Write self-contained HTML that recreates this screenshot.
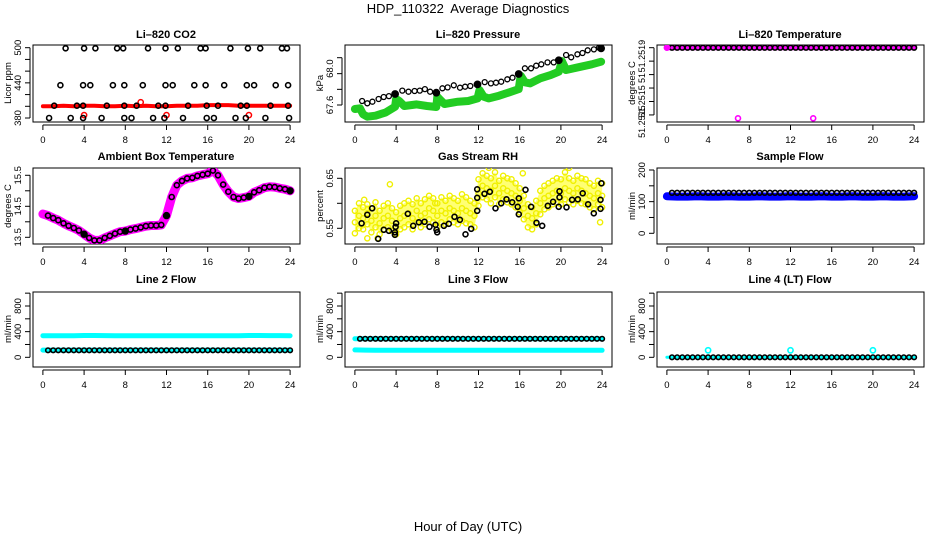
<!DOCTYPE html>
<html><head><meta charset="utf-8"><title>HDP_110322 Average Diagnostics</title>
<style>
html,body{margin:0;padding:0;background:#fff;}
svg{display:block;font-family:"Liberation Sans",Arial,sans-serif;}
.pt{font-size:11px;font-weight:bold;text-anchor:middle;}
.at{font-size:9.5px;text-anchor:middle;}
</style></head>
<body>
<svg id="chart" width="936" height="540" viewBox="0 0 936 540" xmlns="http://www.w3.org/2000/svg">
<rect x="0" y="0" width="936" height="540" fill="#fff"/>
<text x="468" y="13" font-size="13" text-anchor="middle" xml:space="preserve">HDP_110322  Average Diagnostics</text>
<text x="468" y="531" font-size="13" text-anchor="middle">Hour of Day (UTC)</text>
<text class="pt" x="166" y="38">Li–820 CO2</text>
<text class="pt" x="478" y="38">Li–820 Pressure</text>
<text class="pt" x="790" y="38">Li–820 Temperature</text>
<text class="pt" x="166" y="160">Ambient Box Temperature</text>
<text class="pt" x="478" y="160">Gas Stream RH</text>
<text class="pt" x="790" y="160">Sample Flow</text>
<text class="pt" x="166" y="283">Line 2 Flow</text>
<text class="pt" x="478" y="283">Line 3 Flow</text>
<text class="pt" x="790" y="283">Line 4 (LT) Flow</text>
<text class="at" transform="translate(11,83) rotate(-90)">Licor ppm</text>
<text class="at" transform="translate(323,83) rotate(-90)">kPa</text>
<text class="at" transform="translate(635,83) rotate(-90)">degrees C</text>
<text class="at" transform="translate(11,206) rotate(-90)">degrees C</text>
<text class="at" transform="translate(323,206) rotate(-90)">percent</text>
<text class="at" transform="translate(635,206) rotate(-90)">ml/min</text>
<text class="at" transform="translate(11,329) rotate(-90)">ml/min</text>
<text class="at" transform="translate(323,329) rotate(-90)">ml/min</text>
<text class="at" transform="translate(635,329) rotate(-90)">ml/min</text>
</svg>
<script>
// ---------- data ----------
const xTicks=[0,4,8,12,16,20,24];
const xTickLabels=['0','4','8','12','16','20','24'];
const halfHours=[0.5,1,1.5,2,2.5,3,3.5,4,4.5,5,5.5,6,6.5,7,7.5,8,8.5,9,9.5,10,10.5,11,11.5,12,12.5,13,13.5,14,14.5,15,15.5,16,16.5,17,17.5,18,18.5,19,19.5,20,20.5,21,21.5,22,22.5,23,23.5,24];
const wholeHours=[0,1,2,3,4,5,6,7,8,9,10,11,12,13,14,15,16,17,18,19,20,21,22,23,24];

// CO2
const co2BlackHours=[2.2,4.0,5.1,7.2,7.8,10.2,11.9,13.1,15.3,15.8,18.2,19.9,21.1,23.2,23.7,
 1.7,3.9,4.6,6.8,7.9,9.7,11.9,12.6,14.7,15.8,17.6,19.8,20.5,22.6,23.8,
 1.1,3.3,3.9,6.2,7.9,9.1,11.2,11.9,14.1,15.9,17.0,19.2,19.8,22.1,23.8,
 0.6,2.7,3.9,5.7,7.9,8.6,10.7,11.8,13.6,15.9,16.6,18.7,19.7,21.6,23.9];
const co2BlackVals=[499,499,499,499,499,499,499,499,499,499,499,499,499,499,499,
 436,436,436,436,436,436,436,436,436,436,436,436,436,436,436,
 401,401,401,401,401,401,401,401,401,401,401,401,401,401,401,
 380,380,380,380,380,380,380,380,380,380,380,380,380,380,380];
const co2RedVals=[400,400,401,400,401,401,400,400,401,400,401,400,400,401,401,401,402,402,402,401,401,401,401,401,401];
const co2RedPtHours=[4,9.5,12,20];
const co2RedPtVals=[385,407,385,385];

// Pressure
const presBlackHours=[0.7,1.2,1.7,2.3,2.8,3.3,3.9,4.6,5.2,5.8,6.3,6.8,7.3,7.9,8.5,9.0,9.6,10.2,10.7,11.2,11.9,12.6,13.2,13.7,14.2,14.8,15.3,15.9,16.5,17.1,17.6,18.1,18.7,19.3,19.8,20.5,21.0,21.6,22.1,22.6,23.2,23.7];
const presBlackVals=[67.643,67.618,67.636,67.664,67.686,67.696,67.718,67.754,67.743,67.75,67.754,67.771,67.743,67.732,67.779,67.789,67.811,67.786,67.796,67.804,67.821,67.846,67.832,67.839,67.85,67.875,67.893,67.932,67.993,67.993,68.021,68.036,68.057,68.057,68.079,68.136,68.111,68.143,68.157,68.186,68.196,68.214];
const presFilledHours=[3.9,7.9,11.9,15.9,19.8,23.9];
const presFilledVals=[67.718,67.732,67.821,67.932,68.079,68.207];
const presGreenHours=[0,0.5,0.8,1.2,2,3,3.9,4.0,4.3,4.8,6,7,7.9,8.0,8.3,8.7,10,11,11.9,12.1,12.5,13,14,15,15.9,16.1,16.5,17,18,19,19.8,20.1,20.5,21.5,23,23.9];
const presGreenVals=[67.557,67.564,67.5,67.475,67.486,67.521,67.582,67.664,67.643,67.589,67.607,67.589,67.579,67.689,67.654,67.611,67.636,67.643,67.671,67.761,67.689,67.671,67.7,67.736,67.771,67.914,67.843,67.832,67.886,67.921,67.957,68.071,67.975,68.0,68.036,68.064];

// Li-820 temperature
const tempBlackVals=[51.2519,51.2519,51.2519,51.2519,51.2519,51.2519,51.2519,51.2519,51.2519,51.2519,51.2519,51.2519,51.2519,51.2519,51.2519,51.2519,51.2519,51.2519,51.2519,51.2519,51.2519,51.2519,51.2519,51.2519,51.2519,51.2519,51.2519,51.2519,51.2519,51.2519,51.2519,51.2519,51.2519,51.2519,51.2519,51.2519,51.2519,51.2519,51.2519,51.2519,51.2519,51.2519,51.2519,51.2519,51.2519,51.2519,51.2519,51.2519];
const tempMagHours=[0,24];
const tempMagVals=[51.2519,51.2519];
const tempMagPtHours=[0,6.9,14.2];
const tempMagPtVals=[51.2519,51.25148,51.25148];

// Ambient temperature
const ambHours=[0,0.5,1,1.5,2,2.5,3,3.5,4,4.5,5,5.5,6,6.5,7,7.5,8,8.5,9,9.5,10,10.5,11,11.5,12,12.5,13,13.5,14,14.5,15,15.5,16,16.5,17,17.5,18,18.5,19,19.5,20,20.5,21,21.5,22,22.5,23,23.5,24];
const ambVals=[14.25,14.2,14.12,14.05,13.95,13.87,13.8,13.72,13.6,13.48,13.4,13.4,13.48,13.55,13.62,13.68,13.7,13.75,13.78,13.82,13.86,13.88,13.88,13.9,14.2,14.8,15.18,15.32,15.4,15.42,15.48,15.52,15.55,15.65,15.5,15.2,14.97,14.8,14.75,14.78,14.82,14.95,15.02,15.1,15.13,15.12,15.08,15.05,15.0];
const ambFilledHours=[4,8,12,20,24];
const ambFilledVals=[13.6,13.7,14.2,14.82,15.0];

// Gas stream RH
const rhHours=[0,0.4,0.8,1.2,1.6,2,2.4,2.8,3.2,3.6,4,4.4,4.8,5.2,5.6,6,6.4,6.8,7.2,7.6,8,8.4,8.8,9.2,9.6,10,10.4,10.8,11.2,11.6,12,12.4,12.8,13.2,13.6,14,14.4,14.8,15.2,15.6,16,16.4,16.8,17.2,17.6,18,18.4,18.8,19.2,19.6,20,20.4,20.8,21.2,21.6,22,22.4,22.8,23.2,23.6,24];
const rhMid=[.562,.575,.570,.580,.565,.575,.560,.570,.575,.565,.560,.570,.575,.580,.570,.585,.575,.580,.590,.585,.575,.585,.580,.590,.585,.580,.590,.585,.580,.575,.620,.635,.630,.625,.635,.620,.630,.625,.620,.615,.605,.590,.575,.570,.580,.600,.610,.615,.620,.625,.620,.630,.625,.620,.630,.625,.620,.615,.610,.620,.615];
const rhHi=[.585,.600,.592,.598,.590,.602,.585,.595,.600,.590,.582,.595,.600,.605,.598,.610,.600,.608,.615,.610,.600,.612,.605,.615,.610,.605,.618,.612,.605,.600,.648,.660,.655,.650,.662,.645,.655,.650,.648,.640,.630,.615,.598,.592,.605,.625,.635,.640,.645,.650,.648,.662,.650,.645,.655,.650,.648,.640,.635,.645,.640];
const rhLo=[.540,.550,.548,.558,.542,.552,.538,.548,.552,.545,.538,.548,.552,.558,.548,.562,.552,.558,.568,.562,.552,.562,.558,.568,.562,.558,.565,.560,.558,.552,.595,.612,.608,.600,.612,.598,.608,.602,.598,.592,.582,.568,.552,.548,.558,.578,.588,.592,.598,.602,.598,.608,.602,.598,.605,.600,.598,.592,.588,.598,.592];
const rhExtraHours=[3.4,0.9,13.0,20.8,16.3,23.8,2.2,7.8,1.2];
const rhExtraVals=[.638,.607,.671,.671,.660,.562,.530,.600,.530];
const rhBlackHours=[0.65,1.2,1.68,2.26,2.81,3.3,3.88,3.95,4.0,3.88,5.14,5.66,6.21,6.76,7.24,7.83,7.92,7.99,8.64,9.12,9.67,10.19,10.74,11.29,11.87,11.87,11.87,12.58,13.1,13.65,14.2,14.72,15.27,15.81,15.91,15.91,16.56,17.11,17.63,18.18,18.73,19.24,19.79,19.86,19.86,20.54,21.09,21.64,22.12,22.64,23.19,23.84,23.84,23.93];
const rhBlackVals=[.56,.577,.59,.529,.547,.545,.542,.553,.56,.537,.579,.555,.562,.563,.553,.557,.547,.542,.555,.559,.573,.567,.538,.549,.585,.611,.628,.619,.623,.59,.6,.608,.602,.593,.61,.578,.627,.593,.561,.555,.595,.603,.593,.612,.624,.592,.607,.608,.62,.598,.58,.607,.589,.64];

// Sample flow
const sampleBlueVals=[117,116,116,117,116,116,117,116,116,117,116,116,117,116,116,117,116,116,117,116,116,117,116,116,117];
const sampleBlackVals=[128,128,128,128,128,128,128,128,128,128,128,128,128,128,128,128,128,128,128,128,128,128,128,128,128,128,128,128,128,128,128,128,128,128,128,128,128,128,128,128,128,128,128,128,128,128,128,128];

// Line flows
const line2CyanHigh=[337,337,337,337,340,340,338,337,337,337,337,337,336,337,337,337,337,337,337,337,340,340,338,338,337];
const line2CyanLow=[112,112,112,112,112,112,112,112,112,112,112,112,112,112,112,112,112,112,112,112,112,112,112,112,112];
const line2BlackVals=[110,110,110,110,110,110,110,110,110,110,110,110,110,110,110,110,110,110,110,110,110,110,110,110,110,110,110,110,110,110,110,110,110,110,110,110,110,110,110,110,110,110,110,110,110,110,110,110];
const line3CyanHigh=[290,290,290,290,288,290,290,290,290,290,290,290,288,290,290,290,290,290,290,290,288,290,290,290,290];
const line3CyanLow=[115,112,110,110,110,110,110,110,110,110,110,110,110,110,110,110,110,110,110,110,110,110,110,110,110];
const line3BlackVals=[288,288,288,288,288,288,288,288,288,288,288,288,288,288,288,288,288,288,288,288,288,288,288,288,288,288,288,288,288,288,288,288,288,288,288,288,288,288,288,288,288,288,288,288,288,288,288,288];
const line4CyanVals=[0,0,0,0,0,0,0,0,0,0,0,0,0,0,0,0,0,0,0,0,0,0,0,0,0];
const line4BlackVals=[0,0,0,0,0,0,0,0,0,0,0,0,0,0,0,0,0,0,0,0,0,0,0,0,0,0,0,0,0,0,0,0,0,0,0,0,0,0,0,0,0,0,0,0,0,0,0,0];
const line4CyanPtHours=[4,12,20];
const line4CyanPtVals=[110,110,110];

// y axis ticks
const co2Ticks=[380,400,420,440,460,480,500], co2TickLabels=['380','440','500'], co2LabelVals=[380,440,500];
const presTicks=[67.6,67.768,67.936,68.107], presTickLabels=['67.6','68.0'], presLabelVals=[67.6,67.99];
const tempTicks=[51.2515,51.25158,51.25166,51.25174,51.25182,51.2519], tempTickLabels=['51.2519','51','51.2515','51.2515'], tempLabelVals=[51.25185,51.25172,51.25158,51.25146];
const ambTicks=[13.5,14,14.5,15,15.5], ambTickLabels=['13.5','14.5','15.5'], ambLabelVals=[13.5,14.5,15.5];
const rhTicks=[0.55,0.6,0.65], rhTickLabels=['0.55','0.65'], rhLabelVals=[0.55,0.65];
const sfTicks=[0,50,100,150,200], sfTickLabels=['0','100','200'], sfLabelVals=[0,100,200];
const flowTicks=[0,200,400,600,800,1000], flowTickLabels=['0','400','800'], flowLabelVals=[0,400,800];

// ---------- drawing ----------
const NS='http://www.w3.org/2000/svg';
const svg=document.getElementById('chart');
function mk(tag,attrs){const e=document.createElementNS(NS,tag);for(const k in attrs)e.setAttribute(k,attrs[k]);return e;}
const cols=[[33,300],[345,612],[657,924]];
const rows=[[45,122],[168,244],[292,367]];
function panel(id,c,r,y0,y1){return {id:id,L:cols[c][0],R:cols[c][1],T:rows[r][0],B:rows[r][1],y0:y0,y1:y1};}
function X(p,h){return p.L+(h+0.96)/25.92*(p.R-p.L);}
function Y(p,v){return p.B-(v-p.y0)/(p.y1-p.y0)*(p.B-p.T);}

function frame(p,ticks,labels,labelVals,lfs){
  const g=mk('g',{});
  
  
  svg.appendChild(g);
  const cp=mk('clipPath',{id:'clip-'+p.id});
  cp.appendChild(mk('rect',{x:p.L,y:p.T,width:p.R-p.L,height:p.B-p.T}));
  svg.appendChild(cp);
  const box=mk('rect',{x:p.L,y:p.T,width:p.R-p.L,height:p.B-p.T,fill:'none',stroke:'#000','stroke-width':1});
  
  
  g.appendChild(box);
  const xa=mk('line',{x1:X(p,xTicks[0]),x2:X(p,xTicks[xTicks.length-1]),y1:p.B+3,y2:p.B+3,stroke:'#000'});
  
  
  g.appendChild(xa);
  xTicks.forEach((t,i)=>{
    const tk=mk('line',{x1:X(p,t),x2:X(p,t),y1:p.B+3,y2:p.B+8,stroke:'#000'});
    
    
    g.appendChild(tk);
    const tx=mk('text',{x:X(p,t),y:p.B+21,'font-size':9.5,'text-anchor':'middle'});
    
    
    tx.textContent=xTickLabels[i];
    g.appendChild(tx);
  });
  const ya=mk('line',{x1:p.L-3,x2:p.L-3,y1:Y(p,ticks[0]),y2:Y(p,ticks[ticks.length-1]),stroke:'#000'});
  
  
  g.appendChild(ya);
  ticks.forEach(t=>{
    const tk=mk('line',{x1:p.L-8,x2:p.L-3,y1:Y(p,t),y2:Y(p,t),stroke:'#000'});
    
    
    g.appendChild(tk);
  });
  labels.forEach((s,i)=>{
    const yy=Y(p,labelVals[i]);
    const tx=mk('text',{transform:'translate('+(p.L-12)+','+yy+') rotate(-90)','font-size':lfs||9.5,'text-anchor':'middle'});
    
    
    tx.textContent=s;
    g.appendChild(tx);
  });
}
function layer(p,name){
  const g=mk('g',{'clip-path':'url(#clip-'+p.id+')'});
  
  
  svg.appendChild(g);
  return g;
}
function line(p,hs,vs,color,w,name){
  const g=layer(p,name);
  const d=hs.map((h,i)=>(i?'L':'M')+X(p,h).toFixed(1)+' '+Y(p,vs[i]).toFixed(1)).join(' ');
  const pa=mk('path',{d:d,fill:'none',stroke:color,'stroke-width':w,'stroke-linejoin':'round','stroke-linecap':'round'});
  
  
  g.appendChild(pa);
}
function band(p,hs,lo,hi,color,op,name){
  const g=layer(p,name);
  let d='M'+hs.map((h,i)=>X(p,h).toFixed(1)+' '+Y(p,hi[i]).toFixed(1)).join(' L');
  d+=' L'+hs.slice().reverse().map((h,j)=>{const i=hs.length-1-j;return X(p,h).toFixed(1)+' '+Y(p,lo[i]).toFixed(1);}).join(' L')+' Z';
  const pa=mk('path',{d:d,fill:color,'fill-opacity':op,stroke:'none'});
  
  
  g.appendChild(pa);
}
function points(p,hs,vs,color,name,r,filled,sw){
  const g=layer(p,name);
  hs.forEach((h,i)=>{
    const c=mk('circle',{cx:X(p,h).toFixed(1),cy:Y(p,vs[i]).toFixed(1),r:r,fill:filled?color:'none',stroke:color,'stroke-width':sw||1.5});
    
    
    g.appendChild(c);
  });
}

const p1=panel('co2',0,0,373.2,504.6);
frame(p1,co2Ticks,co2TickLabels,co2LabelVals);
line(p1,wholeHours,co2RedVals,'#ff0000',4,'co2-red-series');
points(p1,co2RedPtHours,co2RedPtVals,'#ff0000','co2-red-outliers',2.6,false,1.5);
points(p1,co2BlackHours,co2BlackVals,'#000','co2-black-series',2.5,false,1.6);

const p2=panel('pressure',1,0,67.418,68.243);
frame(p2,presTicks,presTickLabels,presLabelVals);
line(p2,presGreenHours,presGreenVals,'#22cc22',8,'pressure-green-series');
points(p2,presBlackHours,presBlackVals,'#000','pressure-black-series',2.5,false,1.3);
points(p2,presFilledHours,presFilledVals,'#000','pressure-hour-marks',3.4,true,1);

const p3=panel('li820-temp',2,0,51.251458,51.251916);
frame(p3,tempTicks,tempTickLabels,tempLabelVals,9);
line(p3,tempMagHours,tempMagVals,'#ff00ff',5,'li820-temp-magenta-series');
points(p3,halfHours,tempBlackVals,'#000','li820-temp-black-series',2.4,false,1.6);
points(p3,tempMagPtHours,tempMagPtVals,'#ff00ff','li820-temp-magenta-points',2.5,false,1.6);

const p4=panel('ambient-temp',0,1,13.284,15.735);
frame(p4,ambTicks,ambTickLabels,ambLabelVals);
line(p4,ambHours,ambVals,'#ff00ff',9,'ambient-magenta-series');
points(p4,ambHours.slice(1),ambVals.slice(1),'#000','ambient-black-series',2.5,false,1.6);
points(p4,ambFilledHours,ambFilledVals,'#000','ambient-hour-marks',3.2,true,1);

const p5=panel('gas-rh',1,1,0.5186,0.6706);
frame(p5,rhTicks,rhTickLabels,rhLabelVals);
band(p5,rhHours,rhLo,rhHi,'#ffff00',0.55,'rh-yellow-band');
points(p5,rhHours,rhHi,'#f0f000','rh-yellow-high',2.6,false,1.4);
points(p5,rhHours,rhMid,'#f0f000','rh-yellow-mid',2.6,false,1.4);
points(p5,rhHours,rhLo,'#f0f000','rh-yellow-low',2.6,false,1.4);
points(p5,rhExtraHours,rhExtraVals,'#f0f000','rh-yellow-outliers',2.6,false,1.4);
points(p5,rhBlackHours,rhBlackVals,'#000','rh-black-series',2.5,false,1.6);

const p6=panel('sample-flow',2,1,-33.8,206.3);
frame(p6,sfTicks,sfTickLabels,sfLabelVals);
line(p6,wholeHours,sampleBlueVals,'#0000ff',8,'sample-flow-blue-series');
points(p6,halfHours,sampleBlackVals,'#000','sample-flow-black-series',2.4,false,1.6);

const p7=panel('line2-flow',0,2,-151,1018);
frame(p7,flowTicks,flowTickLabels,flowLabelVals);
line(p7,wholeHours,line2CyanHigh,'#00ffff',5,'line2-cyan-high');
line(p7,wholeHours,line2CyanLow,'#00ffff',5,'line2-cyan-low');
points(p7,halfHours,line2BlackVals,'#000','line2-black-series',2.3,false,1.6);

const p8=panel('line3-flow',1,2,-151,1018);
frame(p8,flowTicks,flowTickLabels,flowLabelVals);
line(p8,wholeHours,line3CyanHigh,'#00ffff',5,'line3-cyan-high');
line(p8,wholeHours,line3CyanLow,'#00ffff',5,'line3-cyan-low');
points(p8,halfHours,line3BlackVals,'#000','line3-black-series',2.3,false,1.6);

const p9=panel('line4-flow',2,2,-151,1018);
frame(p9,flowTicks,flowTickLabels,flowLabelVals);
line(p9,wholeHours,line4CyanVals,'#00ffff',3,'line4-cyan-series');
points(p9,halfHours,line4BlackVals,'#000','line4-black-series',2.3,false,1.6);
points(p9,line4CyanPtHours,line4CyanPtVals,'#00ffff','line4-cyan-points',2.6,false,1.6);
</script>
</body></html>
